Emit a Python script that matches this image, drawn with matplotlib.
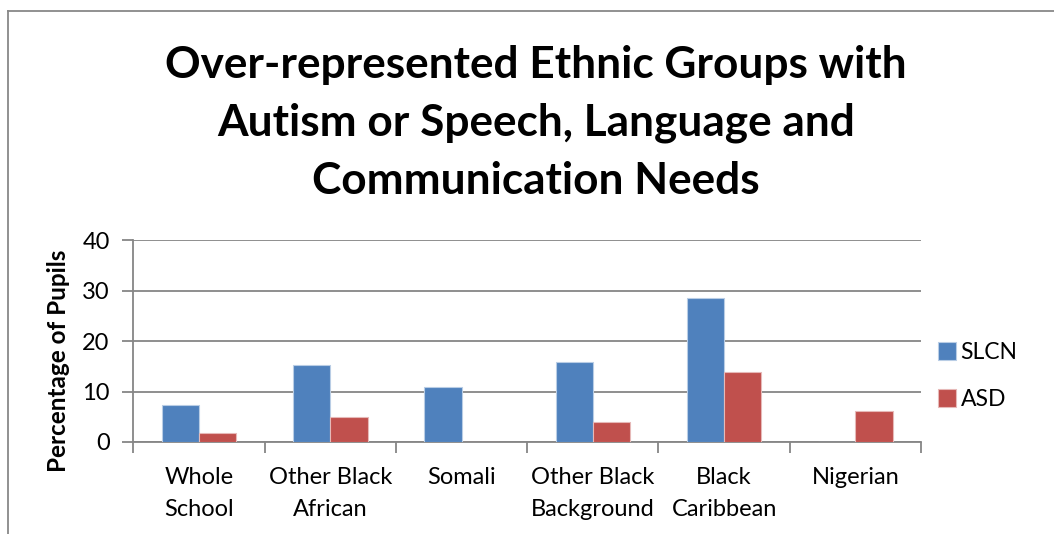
import matplotlib
matplotlib.use("Agg")
import matplotlib.pyplot as plt
import numpy as np
from matplotlib.lines import Line2D

categories = ["Whole\nSchool", "Other Black\nAfrican", "Somali",
              "Other Black\nBackground", "Black\nCaribbean", "Nigerian"]
slcn = [7.3, 15.2, 11.0, 15.9, 28.5, 0.0]
asd = [1.7, 5.0, 0.0, 3.9, 13.9, 6.1]
series_names = ["SLCN", "ASD"]
yticks = [0, 10, 20, 30, 40]

plt.rcParams['font.family'] = ['Lato', 'DejaVu Sans']

fig = plt.figure(figsize=(10.54, 5.34), dpi=100)
ax = fig.add_axes([133.3/1054, 1 - 442/534, (921-133.3)/1054, (442-240.3)/534])

x = np.arange(len(categories))
w = 0.284
blue = "#4F81BD"
red = "#C0504D"
b1 = ax.bar(x - w/2, slcn, w, color=blue, edgecolor="#B9CDE5", linewidth=0.8, label=series_names[0], zorder=3)
b2 = ax.bar(x + w/2, asd, w, color=red, edgecolor="#E6B9B8", linewidth=0.8, label=series_names[1], zorder=3)

gray = "#868686"
ax.set_xlim(-0.5, len(categories) - 0.5)
ax.set_ylim(0, 40)
ax.set_yticks(yticks)
ax.set_yticklabels([str(t) for t in yticks], fontsize=17)
ax.yaxis.grid(True, color=gray, linewidth=1.3, zorder=0)
ax.set_axisbelow(True)
ax.set_xticks(x)
ax.set_xticklabels(categories, fontsize=17, linespacing=1.65)
ax.set_xticks(np.arange(-0.5, len(categories), 1.0), minor=True)
ax.tick_params(axis='x', which='major', length=0, pad=18)
ax.tick_params(axis='x', which='minor', length=8, width=1.3, color=gray, direction='out')
ax.tick_params(axis='y', length=8, width=1.3, color=gray, direction='out', pad=9)
for s in ['top', 'right']:
    ax.spines[s].set_visible(False)
for s in ['left', 'bottom']:
    ax.spines[s].set_color(gray)
    ax.spines[s].set_linewidth(1.3)

fig.text(58/1054, 1 - 361/534, "Percentage of Pupils", rotation=90, ha='center', va='center',
         fontsize=17.5, fontweight='bold')

fig.text(536/1054, 1 - 123/534,
         "Over-represented Ethnic Groups with\nAutism or Speech, Language and\nCommunication Needs",
         ha='center', va='center', fontsize=31.8, fontweight='bold', linespacing=1.55)

leg = fig.legend(handles=[b1, b2], labels=series_names, loc='center left',
                 bbox_to_anchor=(917/1054, 1 - 376/534), frameon=False, fontsize=16.5,
                 handlelength=0.8, handleheight=0.8, handletextpad=0.2, labelspacing=1.15)

# chart frame (partially cropped)
fig.add_artist(Line2D([8/1054, 8/1054], [0, 1 - 11/534], color="#888888", linewidth=1.3, transform=fig.transFigure))
fig.add_artist(Line2D([8/1054, 1], [1 - 11/534, 1 - 11/534], color="#888888", linewidth=1.3, transform=fig.transFigure))

fig.savefig("out.png", dpi=100)
